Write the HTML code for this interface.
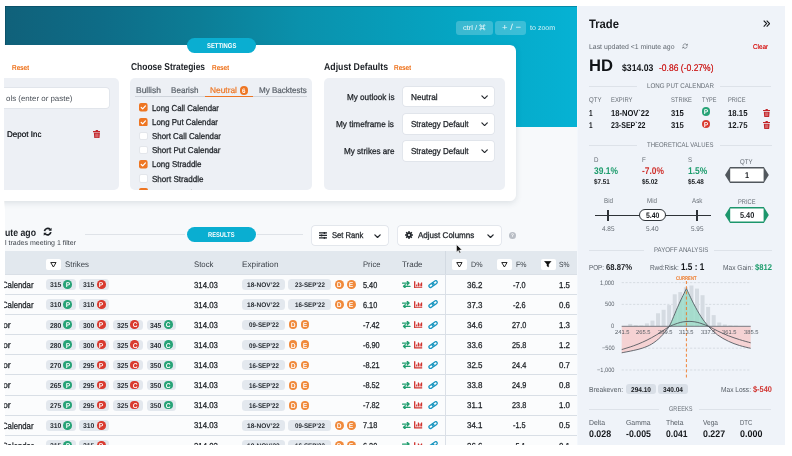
<!DOCTYPE html>
<html><head><meta charset="utf-8"><title>Trade</title>
<style>
html,body{margin:0;padding:0;background:#fff;}
body{width:792px;height:456px;overflow:hidden;position:relative;font-family:"Liberation Sans",sans-serif;}
#app{position:absolute;left:0;top:0;width:792px;height:456px;overflow:hidden;will-change:transform;clip-path:polygon(4.9px 5.85px,784.6px 5.85px,784.6px 444.7px,4.9px 444.7px);}
.r{position:absolute;display:block;}
.t{position:absolute;display:block;white-space:nowrap;line-height:1;transform-origin:0 50%;text-rendering:geometricPrecision;}
</style></head><body><div id="app">
<div class="r" style="left:4.5px;top:5.5px;width:572.5px;height:440px;background:#f7f9fb;"></div>
<div class="r" style="left:4.5px;top:5.5px;width:572.1px;height:121.1px;background:linear-gradient(90deg,#10617a 0%,#0e6c87 16.6%,#0c7d96 34%,#0a91ac 51.6%,#05a6c4 79.6%,#06b2d4 100%);"></div>
<div class="r" style="left:5px;top:5.8px;width:571.6px;height:1.1px;background:rgba(0,40,60,.28);"></div>
<div class="r" style="left:4.9px;top:5.8px;width:1.1px;height:121px;background:rgba(0,40,60,.25);"></div>
<div class="r" style="left:456.3px;top:20.7px;width:36.4px;height:14.1px;background:rgba(255,255,255,.22);border-radius:3px"></div>
<div class="r" style="left:495.2px;top:20.7px;width:31.1px;height:14.1px;background:rgba(255,255,255,.22);border-radius:3px"></div>
<span class="t" style="left:463.00px;top:25px;font-size:7px;font-weight:400;color:rgba(255,255,255,.9);transform:scaleX(1.074);">ctrl /</span>
<svg class="r" style="left:479.4px;top:24.4px;width:6.6px;height:6.6px" viewBox="0 0 8 8"><path d="M2.6 2.6h2.8v2.8H2.6zM2.6 2.6H1.7a.9.9 0 1 1 .9-.9zM5.4 2.6V1.7a.9.9 0 1 1 .9.9zM5.4 5.4h.9a.9.9 0 1 1-.9.9zM2.6 5.4v.9a.9.9 0 1 1-.9-.9z" fill="none" stroke="rgba(255,255,255,.9)" stroke-width=".85"/></svg>
<span class="t" style="left:501.50px;top:23px;font-size:8.5px;font-weight:400;color:rgba(255,255,255,.9);transform:scaleX(1.117);">+ / −</span>
<span class="t" style="left:529.80px;top:25px;font-size:7px;font-weight:400;color:rgba(255,255,255,.85);transform:scaleX(1.012);">to zoom</span>
<div class="r" style="left:-10px;top:45px;width:526px;height:155.5px;background:#fff;border-radius:6px;box-shadow:0 1.5px 6px rgba(40,60,80,.13)"></div>
<div class="r" style="left:187px;top:38px;width:69px;height:15px;background:#0aaed1;border-radius:8px"></div>
<span class="t" style="left:206.85px;top:43px;font-size:7px;font-weight:700;color:#fff;transform:scaleX(0.837);">SETTINGS</span>
<span class="t" style="left:11.60px;top:65px;font-size:7px;font-weight:400;color:#ee7623;transform:scaleX(0.930);text-shadow:0 0 .3px #ee7623;">Reset</span>
<div class="r" style="left:-10px;top:77.5px;width:128.5px;height:112px;background:#edf0f5;border-radius:5px"></div>
<div class="r" style="left:-10px;top:88.3px;width:118.6px;height:19.9px;background:#fff;border-radius:3px;box-shadow:0 0 0 .7px #dde1e8"></div>
<span class="t" style="left:5.50px;top:95px;font-size:7.8px;font-weight:400;color:#4a5058;transform:scaleX(1.016);">ols (enter or paste)</span>
<span class="t" style="left:6.80px;top:130px;font-size:8.3px;font-weight:400;color:#23272c;transform:scaleX(0.971);text-shadow:0 0 .3px #23272c;">Depot Inc</span>
<svg class="r" style="left:92.61px;top:129.60px;width:7.77px;height:8.40px" viewBox="0 0 7.4 8"><path fill="#c2262b" d="M0 1h2.3L2.8 0.1h1.8L5.1 1h2.3v1.1H0zM0.8 2.7h5.8L6.2 7.4c0 .35-.25.6-.6.6H1.8c-.35 0-.6-.25-.6-.6z"/><path stroke="#fff" stroke-width=".55" opacity=".6" d="M2.7 3.5v3.6M3.7 3.5v3.6M4.7 3.5v3.6"/></svg>
<span class="t" style="left:130.50px;top:63px;font-size:10px;font-weight:700;color:#1d2126;transform:scaleX(0.843);">Choose Strategies</span>
<span class="t" style="left:211.50px;top:65px;font-size:7px;font-weight:400;color:#ee7623;transform:scaleX(0.930);text-shadow:0 0 .3px #ee7623;">Reset</span>
<div class="r" style="left:130px;top:77.5px;width:181.5px;height:112px;background:#edf0f5;border-radius:5px;overflow:hidden"></div>
<span class="t" style="left:135.50px;top:86px;font-size:8.4px;font-weight:400;color:#596068;transform:scaleX(1.010);-webkit-text-stroke:.2px #596068;">Bullish</span>
<span class="t" style="left:171.00px;top:86px;font-size:8.4px;font-weight:400;color:#596068;transform:scaleX(0.966);-webkit-text-stroke:.2px #596068;">Bearish</span>
<span class="t" style="left:209.50px;top:86px;font-size:8.4px;font-weight:400;color:#ee7623;transform:scaleX(0.997);-webkit-text-stroke:.2px #ee7623;">Neutral</span>
<span class="t" style="left:259.00px;top:86px;font-size:8.4px;font-weight:400;color:#596068;transform:scaleX(0.961);-webkit-text-stroke:.2px #596068;">My Backtests</span>
<div class="r" style="left:135px;top:96.2px;width:172px;height:0.8px;background:#cfd4db;"></div>
<div class="r" style="left:204.5px;top:95.6px;width:48.5px;height:1.4px;background:#ee7623;"></div>
<div class="r" style="left:239.8px;top:86.4px;width:8.2px;height:8.2px;background:#ee7623;border-radius:50%"></div>
<span class="t" style="left:242.16px;top:89px;font-size:6.6px;font-weight:700;color:#fff;transform:scaleX(0.950);">6</span>
<svg class="r" style="left:139px;top:103.39999999999999px;width:8.6px;height:8.6px" viewBox="0 0 10 10"><rect width="10" height="10" rx="2.3" fill="#ee7623"/><path d="M2.6 5.2l1.7 1.7 3.2-3.6" stroke="#fff" stroke-width="1.4" fill="none" stroke-linecap="round" stroke-linejoin="round"/></svg>
<span class="t" style="left:152.00px;top:104px;font-size:8.6px;font-weight:400;color:#1f2328;transform:scaleX(0.910);-webkit-text-stroke:.28px #1f2328;">Long Call Calendar</span>
<svg class="r" style="left:139px;top:117.55px;width:8.6px;height:8.6px" viewBox="0 0 10 10"><rect width="10" height="10" rx="2.3" fill="#ee7623"/><path d="M2.6 5.2l1.7 1.7 3.2-3.6" stroke="#fff" stroke-width="1.4" fill="none" stroke-linecap="round" stroke-linejoin="round"/></svg>
<span class="t" style="left:152.00px;top:118px;font-size:8.6px;font-weight:400;color:#1f2328;transform:scaleX(0.920);-webkit-text-stroke:.28px #1f2328;">Long Put Calendar</span>
<div class="r" style="left:139px;top:131.7px;width:8.6px;height:8.6px;background:#fff;border-radius:2px;border:0.6px solid #e3e6eb;box-sizing:border-box"></div>
<span class="t" style="left:152.00px;top:132px;font-size:8.5px;font-weight:400;color:#1f2328;transform:scaleX(0.930);-webkit-text-stroke:.28px #1f2328;">Short Call Calendar</span>
<div class="r" style="left:139px;top:145.85px;width:8.6px;height:8.6px;background:#fff;border-radius:2px;border:0.6px solid #e3e6eb;box-sizing:border-box"></div>
<span class="t" style="left:152.00px;top:146px;font-size:8.5px;font-weight:400;color:#1f2328;transform:scaleX(0.948);-webkit-text-stroke:.28px #1f2328;">Short Put Calendar</span>
<svg class="r" style="left:139px;top:160.0px;width:8.6px;height:8.6px" viewBox="0 0 10 10"><rect width="10" height="10" rx="2.3" fill="#ee7623"/><path d="M2.6 5.2l1.7 1.7 3.2-3.6" stroke="#fff" stroke-width="1.4" fill="none" stroke-linecap="round" stroke-linejoin="round"/></svg>
<span class="t" style="left:152.00px;top:160px;font-size:8.5px;font-weight:400;color:#1f2328;transform:scaleX(0.935);-webkit-text-stroke:.28px #1f2328;">Long Straddle</span>
<div class="r" style="left:139px;top:174.15px;width:8.6px;height:8.6px;background:#fff;border-radius:2px;border:0.6px solid #e3e6eb;box-sizing:border-box"></div>
<span class="t" style="left:152.00px;top:175px;font-size:8.6px;font-weight:400;color:#1f2328;transform:scaleX(0.937);-webkit-text-stroke:.28px #1f2328;">Short Straddle</span>
<div class="r" style="left:130px;top:77.5px;width:181.5px;height:112px;overflow:hidden;border-radius:5px"><div class="r" style="left:9px;top:110.6px;width:8.6px;height:8.6px;border-radius:2px;background:#ee7623"></div><span class="t" style="left:22px;top:111.3px;font-size:8.6px;color:#1f2328;transform:scaleX(.82)">Long Strangle</span></div>
<span class="t" style="left:323.50px;top:63px;font-size:10px;font-weight:700;color:#1d2126;transform:scaleX(0.873);">Adjust Defaults</span>
<span class="t" style="left:393.50px;top:65px;font-size:7px;font-weight:400;color:#ee7623;transform:scaleX(0.930);text-shadow:0 0 .3px #ee7623;">Reset</span>
<div class="r" style="left:323.5px;top:77.5px;width:181.5px;height:112px;background:#edf0f5;border-radius:5px"></div>
<div class="r" style="left:403.2px;top:86.6px;width:90.4px;height:19.9px;background:#fff;border-radius:3px;box-shadow:0 0 0 .7px #dde1e8"></div>
<span class="t" style="left:346.70px;top:93px;font-size:8.6px;font-weight:400;color:#1f2328;transform:scaleX(0.946);-webkit-text-stroke:.28px #1f2328;">My outlook is</span>
<span class="t" style="left:410.70px;top:93px;font-size:8.6px;font-weight:400;color:#1f2328;transform:scaleX(0.959);-webkit-text-stroke:.28px #1f2328;">Neutral</span>
<svg class="r" style="left:480.50px;top:94.55px;width:7.20px;height:4.50px" viewBox="0 0 8 5"><path d="M1 1l3 3 3-3" stroke="#23272c" stroke-width="1.3" fill="none" stroke-linecap="round" stroke-linejoin="round"/></svg>
<div class="r" style="left:403.2px;top:113.7px;width:90.4px;height:19.9px;background:#fff;border-radius:3px;box-shadow:0 0 0 .7px #dde1e8"></div>
<span class="t" style="left:336.20px;top:120px;font-size:8.6px;font-weight:400;color:#1f2328;transform:scaleX(0.956);-webkit-text-stroke:.28px #1f2328;">My timeframe is</span>
<span class="t" style="left:410.70px;top:120px;font-size:8.6px;font-weight:400;color:#1f2328;transform:scaleX(0.932);-webkit-text-stroke:.28px #1f2328;">Strategy Default</span>
<svg class="r" style="left:480.50px;top:121.65px;width:7.20px;height:4.50px" viewBox="0 0 8 5"><path d="M1 1l3 3 3-3" stroke="#23272c" stroke-width="1.3" fill="none" stroke-linecap="round" stroke-linejoin="round"/></svg>
<div class="r" style="left:403.2px;top:140.8px;width:90.4px;height:19.9px;background:#fff;border-radius:3px;box-shadow:0 0 0 .7px #dde1e8"></div>
<span class="t" style="left:343.70px;top:147px;font-size:8.6px;font-weight:400;color:#1f2328;transform:scaleX(0.944);-webkit-text-stroke:.28px #1f2328;">My strikes are</span>
<span class="t" style="left:410.70px;top:147px;font-size:8.6px;font-weight:400;color:#1f2328;transform:scaleX(0.932);-webkit-text-stroke:.28px #1f2328;">Strategy Default</span>
<svg class="r" style="left:480.50px;top:148.75px;width:7.20px;height:4.50px" viewBox="0 0 8 5"><path d="M1 1l3 3 3-3" stroke="#23272c" stroke-width="1.3" fill="none" stroke-linecap="round" stroke-linejoin="round"/></svg>
<span class="t" style="left:5.30px;top:229px;font-size:10.1px;font-weight:700;color:#1d2126;transform:scaleX(0.863);">ute ago</span>
<svg class="r" style="left:42.55px;top:226.85px;width:9.30px;height:9.30px" viewBox="0 0 10 10"><path d="M1.6 4.4A3.5 3.5 0 0 1 7.7 2.7M8.4 5.6A3.5 3.5 0 0 1 2.3 7.3" stroke="#1d2126" stroke-width="1.9" fill="none"/><path fill="#1d2126" d="M9.2 0.7v3.2H6zM0.8 9.3V6.1H4z"/></svg>
<span class="t" style="left:5.30px;top:240px;font-size:7px;font-weight:400;color:#3d434a;transform:scaleX(1.003);">l trades meeting 1 filter</span>
<div class="r" style="left:85px;top:234.3px;width:100px;height:0.7px;background:#dfe3e8;"></div>
<div class="r" style="left:187px;top:227px;width:69px;height:15px;background:#0aaed1;border-radius:8px"></div>
<span class="t" style="left:208.25px;top:232px;font-size:7px;font-weight:700;color:#fff;transform:scaleX(0.824);">RESULTS</span>
<div class="r" style="left:257px;top:234.3px;width:46px;height:0.7px;background:#dfe3e8;"></div>
<div class="r" style="left:311.8px;top:225.8px;width:76.6px;height:19.1px;background:#fff;border-radius:3px;box-shadow:0 0 0 .7px #dde1e8"></div>
<svg class="r" style="left:319px;top:232px;width:8.1px;height:6.8px" viewBox="0 0 8.1 6.8"><path d="M0 0.9h8.1M0 3.4h8.1M0 5.9h8.1" stroke="#23272c" stroke-width="1.3"/><rect x="4.7" y="0" width="1.5" height="1.9" fill="#23272c"/><rect x="1.8" y="2.5" width="1.5" height="1.9" fill="#23272c"/><rect x="4.7" y="4.9" width="1.5" height="1.9" fill="#23272c"/></svg>
<span class="t" style="left:331.80px;top:231px;font-size:8.4px;font-weight:400;color:#1f2328;transform:scaleX(0.912);-webkit-text-stroke:.28px #1f2328;">Set Rank</span>
<svg class="r" style="left:374.38px;top:233.50px;width:7.04px;height:4.40px" viewBox="0 0 8 5"><path d="M1 1l3 3 3-3" stroke="#23272c" stroke-width="1.45" fill="none" stroke-linecap="round" stroke-linejoin="round"/></svg>
<div class="r" style="left:398.4px;top:225.8px;width:102.8px;height:19.1px;background:#fff;border-radius:3px;box-shadow:0 0 0 .7px #dde1e8"></div>
<svg class="r" style="left:404.6px;top:231.4px;width:8px;height:8px" viewBox="0 0 10 10"><g fill="#23272c"><circle cx="5" cy="5" r="3.3"/><g id="tt"><rect x="4" y="0" width="2" height="10" rx=".5"/></g><rect x="4" y="0" width="2" height="10" rx=".5" transform="rotate(45 5 5)"/><rect x="4" y="0" width="2" height="10" rx=".5" transform="rotate(90 5 5)"/><rect x="4" y="0" width="2" height="10" rx=".5" transform="rotate(135 5 5)"/></g><circle cx="5" cy="5" r="1.4" fill="#fff"/></svg>
<span class="t" style="left:417.80px;top:231px;font-size:8.4px;font-weight:400;color:#1f2328;transform:scaleX(0.960);-webkit-text-stroke:.28px #1f2328;">Adjust Columns</span>
<svg class="r" style="left:486.78px;top:233.50px;width:7.04px;height:4.40px" viewBox="0 0 8 5"><path d="M1 1l3 3 3-3" stroke="#23272c" stroke-width="1.45" fill="none" stroke-linecap="round" stroke-linejoin="round"/></svg>
<div class="r" style="left:508.9px;top:231.9px;width:7px;height:7px;background:#b9bec5;border-radius:50%"></div>
<span class="t" style="left:510.97px;top:234px;font-size:5.2px;font-weight:700;color:#fff;transform:scaleX(0.900);">?</span>
<div class="r" style="left:5px;top:250.8px;width:572px;height:23.4px;background:#e2e8ee;"></div>
<div class="r" style="left:5px;top:274.2px;width:572px;height:171px;background:#fbfcfd;"></div>
<div class="r" style="left:46px;top:259.2px;width:15.2px;height:10.4px;background:#fff;border-radius:2px"></div>
<svg class="r" style="left:50.0px;top:261.5px;width:6.8px;height:5.7px" viewBox="0 0 7 6.2"><path d="M0.6 0.6h5.8L3.5 5.5z" fill="none" stroke="#111" stroke-width="1.0" stroke-linejoin="round"/></svg>
<span class="t" style="left:65.30px;top:261px;font-size:8.1px;font-weight:400;color:#3b4148;transform:scaleX(0.970);">Strikes</span>
<span class="t" style="left:193.80px;top:261px;font-size:8.1px;font-weight:400;color:#3b4148;transform:scaleX(0.963);">Stock</span>
<span class="t" style="left:241.80px;top:261px;font-size:8.1px;font-weight:400;color:#3b4148;transform:scaleX(1.013);">Expiration</span>
<span class="t" style="left:363.30px;top:261px;font-size:8.1px;font-weight:400;color:#3b4148;transform:scaleX(0.948);">Price</span>
<span class="t" style="left:402.00px;top:261px;font-size:8.1px;font-weight:400;color:#3b4148;transform:scaleX(0.983);">Trade</span>
<div class="r" style="left:444.9px;top:250.8px;width:0.9px;height:23.5px;background:#d3dae2;"></div>
<div class="r" style="left:444.9px;top:274.3px;width:0.9px;height:172px;background:#dbe0e7;"></div>
<div class="r" style="left:452px;top:259.2px;width:15.2px;height:10.4px;background:#fff;border-radius:2px"></div>
<svg class="r" style="left:456.0px;top:261.5px;width:6.8px;height:5.7px" viewBox="0 0 7 6.2"><path d="M0.6 0.6h5.8L3.5 5.5z" fill="none" stroke="#111" stroke-width="1.0" stroke-linejoin="round"/></svg>
<span class="t" style="left:471.00px;top:261px;font-size:7.6px;font-weight:400;color:#3b4148;transform:scaleX(0.939);">D%</span>
<div class="r" style="left:497.3px;top:259.2px;width:15.2px;height:10.4px;background:#fff;border-radius:2px"></div>
<svg class="r" style="left:501.3px;top:261.5px;width:6.8px;height:5.7px" viewBox="0 0 7 6.2"><path d="M0.6 0.6h5.8L3.5 5.5z" fill="none" stroke="#111" stroke-width="1.0" stroke-linejoin="round"/></svg>
<span class="t" style="left:516.00px;top:261px;font-size:7.6px;font-weight:400;color:#3b4148;transform:scaleX(0.921);">F%</span>
<div class="r" style="left:540.6px;top:259.2px;width:15.2px;height:10.4px;background:#fff;border-radius:2px"></div>
<svg class="r" style="left:544.4px;top:261.4px;width:7.6px;height:6.2px" viewBox="0 0 7 6.2"><path d="M0.2 0.3h6.6L4.3 3.2v2.7L2.7 5V3.2z" fill="#111" stroke="#111" stroke-width=".5" stroke-linejoin="round"/></svg>
<span class="t" style="left:559.00px;top:261px;font-size:7.6px;font-weight:400;color:#3b4148;transform:scaleX(0.888);">S%</span>
<div class="r" style="left:5px;top:273.8px;width:572px;height:0.8px;background:#d9dfe6;"></div>
<span class="t" style="left:2.40px;top:281px;font-size:9.1px;font-weight:400;color:#1f2328;transform:scaleX(0.853);-webkit-text-stroke:.28px #1f2328;">Calendar</span>
<div class="r" style="left:45.9px;top:279.3px;width:29.9px;height:10.6px;background:#e3e8ee;border-radius:3.5px"></div>
<span class="t" style="left:49.70px;top:282px;font-size:7.1px;font-weight:700;color:#2a2f35;transform:scaleX(0.962);">315</span>
<div class="r" style="left:63.35px;top:280.05px;width:8.7px;height:8.7px;background:#27a377;border-radius:50%"></div>
<span class="t" style="left:65.74px;top:283px;font-size:6.7px;font-weight:400;color:#fff;transform:scaleX(0.920);text-shadow:0 0 .35px #fff;">P</span>
<div class="r" style="left:79.45px;top:279.3px;width:29.9px;height:10.6px;background:#e3e8ee;border-radius:3.5px"></div>
<span class="t" style="left:83.25px;top:282px;font-size:7.1px;font-weight:700;color:#2a2f35;transform:scaleX(0.962);">315</span>
<div class="r" style="left:96.9px;top:280.05px;width:8.7px;height:8.7px;background:#d93a2f;border-radius:50%"></div>
<span class="t" style="left:99.29px;top:283px;font-size:6.7px;font-weight:400;color:#fff;transform:scaleX(0.920);text-shadow:0 0 .35px #fff;">P</span>
<span class="t" style="left:193.80px;top:281px;font-size:8.6px;font-weight:400;color:#1f2328;transform:scaleX(0.905);-webkit-text-stroke:.28px #1f2328;">314.03</span>
<div class="r" style="left:242px;top:279.3px;width:43.1px;height:10.6px;background:#e3e8ee;border-radius:3.5px"></div>
<span class="t" style="left:247.10px;top:283px;font-size:6.7px;font-weight:700;color:#2a2f35;transform:scaleX(0.979);">18-NOV’22</span>
<div class="r" style="left:288.3px;top:279.3px;width:43.1px;height:10.6px;background:#e3e8ee;border-radius:3.5px"></div>
<span class="t" style="left:294.85px;top:283px;font-size:6.7px;font-weight:700;color:#2a2f35;transform:scaleX(0.923);">23-SEP’22</span>
<div class="r" style="left:334.75px;top:280.05px;width:8.9px;height:8.9px;background:#f08a3c;border-radius:50%"></div>
<span class="t" style="left:337.07px;top:283px;font-size:6.7px;font-weight:400;color:#fff;transform:scaleX(0.920);text-shadow:0 0 .35px #fff;">D</span>
<div class="r" style="left:346.75px;top:280.05px;width:8.9px;height:8.9px;background:#f08a3c;border-radius:50%"></div>
<span class="t" style="left:349.24px;top:283px;font-size:6.7px;font-weight:400;color:#fff;transform:scaleX(0.920);text-shadow:0 0 .35px #fff;">E</span>
<span class="t" style="left:363.30px;top:281px;font-size:8.6px;font-weight:400;color:#1f2328;transform:scaleX(0.850);-webkit-text-stroke:.28px #1f2328;">5.40</span>
<svg class="r" style="left:402px;top:280.90px;width:8.6px;height:7.4px" viewBox="0 0 8.6 7.4"><path d="M0.5 2.1h6M5.3 0.5l1.8 1.6-1.8 1.6M8.1 5.3H2.1M3.3 3.7L1.5 5.3l1.8 1.6" stroke="#1f9d6e" stroke-width="1.3" fill="none" stroke-linecap="round" stroke-linejoin="round"/></svg>
<svg class="r" style="left:414.3px;top:280.60px;width:8.4px;height:7.6px" viewBox="0 0 8.4 7.6"><path d="M0.7 0.2v6.7h7.5" stroke="#d0312d" stroke-width="1.3" fill="none"/><path d="M2.7 3.4v2.2M4.4 1.4v4.2M6.1 2.6v3M7.6 1.6v4" stroke="#d0312d" stroke-width="1.15"/></svg>
<svg class="r" style="left:427.8px;top:280.30px;width:10.2px;height:8.4px" viewBox="0 0 10.2 8.4"><g fill="none" stroke="#1a96c0" stroke-width="1.3"><rect x="0.7" y="3.7" width="5.6" height="3" rx="1.5" transform="rotate(-36 3.5 5.2)"/><rect x="3.9" y="1.5" width="5.6" height="3" rx="1.5" transform="rotate(-36 6.7 3)"/></g></svg>
<span class="t" style="left:467.00px;top:281px;font-size:8.6px;font-weight:400;color:#1f2328;transform:scaleX(0.926);-webkit-text-stroke:.28px #1f2328;">36.2</span>
<span class="t" style="left:513.40px;top:281px;font-size:8.6px;font-weight:400;color:#1f2328;transform:scaleX(0.850);-webkit-text-stroke:.28px #1f2328;">-7.0</span>
<span class="t" style="left:558.50px;top:281px;font-size:8.6px;font-weight:400;color:#1f2328;transform:scaleX(0.920);-webkit-text-stroke:.28px #1f2328;">1.5</span>
<div class="r" style="left:5px;top:293.92px;width:572px;height:0.8px;background:#d9dfe6;"></div>
<span class="t" style="left:2.40px;top:301px;font-size:9.1px;font-weight:400;color:#1f2328;transform:scaleX(0.853);-webkit-text-stroke:.28px #1f2328;">Calendar</span>
<div class="r" style="left:45.9px;top:299.42px;width:29.9px;height:10.6px;background:#e3e8ee;border-radius:3.5px"></div>
<span class="t" style="left:49.70px;top:302px;font-size:7.1px;font-weight:700;color:#2a2f35;transform:scaleX(0.962);">310</span>
<div class="r" style="left:63.35px;top:300.17px;width:8.7px;height:8.7px;background:#27a377;border-radius:50%"></div>
<span class="t" style="left:65.74px;top:303px;font-size:6.7px;font-weight:400;color:#fff;transform:scaleX(0.920);text-shadow:0 0 .35px #fff;">P</span>
<div class="r" style="left:79.45px;top:299.42px;width:29.9px;height:10.6px;background:#e3e8ee;border-radius:3.5px"></div>
<span class="t" style="left:83.25px;top:302px;font-size:7.1px;font-weight:700;color:#2a2f35;transform:scaleX(0.962);">310</span>
<div class="r" style="left:96.9px;top:300.17px;width:8.7px;height:8.7px;background:#d93a2f;border-radius:50%"></div>
<span class="t" style="left:99.29px;top:303px;font-size:6.7px;font-weight:400;color:#fff;transform:scaleX(0.920);text-shadow:0 0 .35px #fff;">P</span>
<span class="t" style="left:193.80px;top:301px;font-size:8.6px;font-weight:400;color:#1f2328;transform:scaleX(0.905);-webkit-text-stroke:.28px #1f2328;">314.03</span>
<div class="r" style="left:242px;top:299.42px;width:43.1px;height:10.6px;background:#e3e8ee;border-radius:3.5px"></div>
<span class="t" style="left:247.10px;top:303px;font-size:6.7px;font-weight:700;color:#2a2f35;transform:scaleX(0.979);">18-NOV’22</span>
<div class="r" style="left:288.3px;top:299.42px;width:43.1px;height:10.6px;background:#e3e8ee;border-radius:3.5px"></div>
<span class="t" style="left:294.85px;top:303px;font-size:6.7px;font-weight:700;color:#2a2f35;transform:scaleX(0.923);">16-SEP’22</span>
<div class="r" style="left:334.75px;top:300.17px;width:8.9px;height:8.9px;background:#f08a3c;border-radius:50%"></div>
<span class="t" style="left:337.07px;top:303px;font-size:6.7px;font-weight:400;color:#fff;transform:scaleX(0.920);text-shadow:0 0 .35px #fff;">D</span>
<div class="r" style="left:346.75px;top:300.17px;width:8.9px;height:8.9px;background:#f08a3c;border-radius:50%"></div>
<span class="t" style="left:349.24px;top:303px;font-size:6.7px;font-weight:400;color:#fff;transform:scaleX(0.920);text-shadow:0 0 .35px #fff;">E</span>
<span class="t" style="left:363.30px;top:301px;font-size:8.6px;font-weight:400;color:#1f2328;transform:scaleX(0.850);-webkit-text-stroke:.28px #1f2328;">6.10</span>
<svg class="r" style="left:402px;top:301.02px;width:8.6px;height:7.4px" viewBox="0 0 8.6 7.4"><path d="M0.5 2.1h6M5.3 0.5l1.8 1.6-1.8 1.6M8.1 5.3H2.1M3.3 3.7L1.5 5.3l1.8 1.6" stroke="#1f9d6e" stroke-width="1.3" fill="none" stroke-linecap="round" stroke-linejoin="round"/></svg>
<svg class="r" style="left:414.3px;top:300.72px;width:8.4px;height:7.6px" viewBox="0 0 8.4 7.6"><path d="M0.7 0.2v6.7h7.5" stroke="#d0312d" stroke-width="1.3" fill="none"/><path d="M2.7 3.4v2.2M4.4 1.4v4.2M6.1 2.6v3M7.6 1.6v4" stroke="#d0312d" stroke-width="1.15"/></svg>
<svg class="r" style="left:427.8px;top:300.42px;width:10.2px;height:8.4px" viewBox="0 0 10.2 8.4"><g fill="none" stroke="#1a96c0" stroke-width="1.3"><rect x="0.7" y="3.7" width="5.6" height="3" rx="1.5" transform="rotate(-36 3.5 5.2)"/><rect x="3.9" y="1.5" width="5.6" height="3" rx="1.5" transform="rotate(-36 6.7 3)"/></g></svg>
<span class="t" style="left:467.00px;top:301px;font-size:8.6px;font-weight:400;color:#1f2328;transform:scaleX(0.926);-webkit-text-stroke:.28px #1f2328;">37.3</span>
<span class="t" style="left:513.40px;top:301px;font-size:8.6px;font-weight:400;color:#1f2328;transform:scaleX(0.850);-webkit-text-stroke:.28px #1f2328;">-2.6</span>
<span class="t" style="left:558.50px;top:301px;font-size:8.6px;font-weight:400;color:#1f2328;transform:scaleX(0.920);-webkit-text-stroke:.28px #1f2328;">0.6</span>
<div class="r" style="left:5px;top:314.04px;width:572px;height:0.8px;background:#d9dfe6;"></div>
<span class="t" style="left:3.30px;top:321px;font-size:8.9px;font-weight:400;color:#1f2328;transform:scaleX(0.986);-webkit-text-stroke:.28px #1f2328;">or</span>
<div class="r" style="left:45.9px;top:319.54px;width:29.9px;height:10.6px;background:#e3e8ee;border-radius:3.5px"></div>
<span class="t" style="left:49.70px;top:322px;font-size:7.2px;font-weight:700;color:#2a2f35;transform:scaleX(0.949);">280</span>
<div class="r" style="left:63.35px;top:320.29px;width:8.7px;height:8.7px;background:#27a377;border-radius:50%"></div>
<span class="t" style="left:65.74px;top:323px;font-size:6.7px;font-weight:400;color:#fff;transform:scaleX(0.920);text-shadow:0 0 .35px #fff;">P</span>
<div class="r" style="left:79.45px;top:319.54px;width:29.9px;height:10.6px;background:#e3e8ee;border-radius:3.5px"></div>
<span class="t" style="left:83.25px;top:322px;font-size:7.2px;font-weight:700;color:#2a2f35;transform:scaleX(0.949);">300</span>
<div class="r" style="left:96.9px;top:320.29px;width:8.7px;height:8.7px;background:#d93a2f;border-radius:50%"></div>
<span class="t" style="left:99.29px;top:323px;font-size:6.7px;font-weight:400;color:#fff;transform:scaleX(0.920);text-shadow:0 0 .35px #fff;">P</span>
<div class="r" style="left:113px;top:319.54px;width:29.9px;height:10.6px;background:#e3e8ee;border-radius:3.5px"></div>
<span class="t" style="left:116.80px;top:322px;font-size:7.2px;font-weight:700;color:#2a2f35;transform:scaleX(0.949);">325</span>
<div class="r" style="left:130.45px;top:320.29px;width:8.7px;height:8.7px;background:#d93a2f;border-radius:50%"></div>
<span class="t" style="left:132.67px;top:323px;font-size:6.7px;font-weight:400;color:#fff;transform:scaleX(0.920);text-shadow:0 0 .35px #fff;">C</span>
<div class="r" style="left:146.55px;top:319.54px;width:29.9px;height:10.6px;background:#e3e8ee;border-radius:3.5px"></div>
<span class="t" style="left:150.35px;top:322px;font-size:7.2px;font-weight:700;color:#2a2f35;transform:scaleX(0.949);">345</span>
<div class="r" style="left:164px;top:320.29px;width:8.7px;height:8.7px;background:#27a377;border-radius:50%"></div>
<span class="t" style="left:166.22px;top:323px;font-size:6.7px;font-weight:400;color:#fff;transform:scaleX(0.920);text-shadow:0 0 .35px #fff;">C</span>
<span class="t" style="left:193.80px;top:321px;font-size:8.6px;font-weight:400;color:#1f2328;transform:scaleX(0.905);-webkit-text-stroke:.28px #1f2328;">314.03</span>
<div class="r" style="left:242px;top:319.54px;width:43.1px;height:10.6px;background:#e3e8ee;border-radius:3.5px"></div>
<span class="t" style="left:248.55px;top:323px;font-size:6.7px;font-weight:700;color:#2a2f35;transform:scaleX(0.923);">09-SEP’22</span>
<div class="r" style="left:288.55px;top:320.29px;width:8.9px;height:8.9px;background:#f08a3c;border-radius:50%"></div>
<span class="t" style="left:290.87px;top:323px;font-size:6.7px;font-weight:400;color:#fff;transform:scaleX(0.920);text-shadow:0 0 .35px #fff;">D</span>
<div class="r" style="left:300.55px;top:320.29px;width:8.9px;height:8.9px;background:#f08a3c;border-radius:50%"></div>
<span class="t" style="left:303.04px;top:323px;font-size:6.7px;font-weight:400;color:#fff;transform:scaleX(0.920);text-shadow:0 0 .35px #fff;">E</span>
<span class="t" style="left:363.30px;top:321px;font-size:8.6px;font-weight:400;color:#1f2328;transform:scaleX(0.850);-webkit-text-stroke:.28px #1f2328;">-7.42</span>
<svg class="r" style="left:402px;top:321.14px;width:8.6px;height:7.4px" viewBox="0 0 8.6 7.4"><path d="M0.5 2.1h6M5.3 0.5l1.8 1.6-1.8 1.6M8.1 5.3H2.1M3.3 3.7L1.5 5.3l1.8 1.6" stroke="#1f9d6e" stroke-width="1.3" fill="none" stroke-linecap="round" stroke-linejoin="round"/></svg>
<svg class="r" style="left:414.3px;top:320.84px;width:8.4px;height:7.6px" viewBox="0 0 8.4 7.6"><path d="M0.7 0.2v6.7h7.5" stroke="#d0312d" stroke-width="1.3" fill="none"/><path d="M2.7 3.4v2.2M4.4 1.4v4.2M6.1 2.6v3M7.6 1.6v4" stroke="#d0312d" stroke-width="1.15"/></svg>
<svg class="r" style="left:427.8px;top:320.54px;width:10.2px;height:8.4px" viewBox="0 0 10.2 8.4"><g fill="none" stroke="#1a96c0" stroke-width="1.3"><rect x="0.7" y="3.7" width="5.6" height="3" rx="1.5" transform="rotate(-36 3.5 5.2)"/><rect x="3.9" y="1.5" width="5.6" height="3" rx="1.5" transform="rotate(-36 6.7 3)"/></g></svg>
<span class="t" style="left:467.00px;top:321px;font-size:8.6px;font-weight:400;color:#1f2328;transform:scaleX(0.926);-webkit-text-stroke:.28px #1f2328;">34.6</span>
<span class="t" style="left:511.77px;top:321px;font-size:8.6px;font-weight:400;color:#1f2328;transform:scaleX(0.850);-webkit-text-stroke:.28px #1f2328;">27.0</span>
<span class="t" style="left:558.50px;top:321px;font-size:8.6px;font-weight:400;color:#1f2328;transform:scaleX(0.920);-webkit-text-stroke:.28px #1f2328;">1.3</span>
<div class="r" style="left:5px;top:334.16px;width:572px;height:0.8px;background:#d9dfe6;"></div>
<span class="t" style="left:3.30px;top:341px;font-size:8.9px;font-weight:400;color:#1f2328;transform:scaleX(0.986);-webkit-text-stroke:.28px #1f2328;">or</span>
<div class="r" style="left:45.9px;top:339.66px;width:29.9px;height:10.6px;background:#e3e8ee;border-radius:3.5px"></div>
<span class="t" style="left:49.70px;top:342px;font-size:7.2px;font-weight:700;color:#2a2f35;transform:scaleX(0.949);">280</span>
<div class="r" style="left:63.35px;top:340.41px;width:8.7px;height:8.7px;background:#27a377;border-radius:50%"></div>
<span class="t" style="left:65.71px;top:344px;font-size:6.8px;font-weight:400;color:#fff;transform:scaleX(0.920);text-shadow:0 0 .35px #fff;">P</span>
<div class="r" style="left:79.45px;top:339.66px;width:29.9px;height:10.6px;background:#e3e8ee;border-radius:3.5px"></div>
<span class="t" style="left:83.25px;top:342px;font-size:7.2px;font-weight:700;color:#2a2f35;transform:scaleX(0.949);">300</span>
<div class="r" style="left:96.9px;top:340.41px;width:8.7px;height:8.7px;background:#d93a2f;border-radius:50%"></div>
<span class="t" style="left:99.26px;top:344px;font-size:6.8px;font-weight:400;color:#fff;transform:scaleX(0.920);text-shadow:0 0 .35px #fff;">P</span>
<div class="r" style="left:113px;top:339.66px;width:29.9px;height:10.6px;background:#e3e8ee;border-radius:3.5px"></div>
<span class="t" style="left:116.80px;top:342px;font-size:7.2px;font-weight:700;color:#2a2f35;transform:scaleX(0.949);">325</span>
<div class="r" style="left:130.45px;top:340.41px;width:8.7px;height:8.7px;background:#d93a2f;border-radius:50%"></div>
<span class="t" style="left:132.64px;top:344px;font-size:6.8px;font-weight:400;color:#fff;transform:scaleX(0.920);text-shadow:0 0 .35px #fff;">C</span>
<div class="r" style="left:146.55px;top:339.66px;width:29.9px;height:10.6px;background:#e3e8ee;border-radius:3.5px"></div>
<span class="t" style="left:150.35px;top:342px;font-size:7.2px;font-weight:700;color:#2a2f35;transform:scaleX(0.949);">340</span>
<div class="r" style="left:164px;top:340.41px;width:8.7px;height:8.7px;background:#27a377;border-radius:50%"></div>
<span class="t" style="left:166.19px;top:344px;font-size:6.8px;font-weight:400;color:#fff;transform:scaleX(0.920);text-shadow:0 0 .35px #fff;">C</span>
<span class="t" style="left:193.80px;top:341px;font-size:8.5px;font-weight:400;color:#1f2328;transform:scaleX(0.915);-webkit-text-stroke:.28px #1f2328;">314.03</span>
<div class="r" style="left:242px;top:339.66px;width:43.1px;height:10.6px;background:#e3e8ee;border-radius:3.5px"></div>
<span class="t" style="left:248.55px;top:344px;font-size:6.8px;font-weight:700;color:#2a2f35;transform:scaleX(0.909);">09-SEP’22</span>
<div class="r" style="left:288.55px;top:340.41px;width:8.9px;height:8.9px;background:#f08a3c;border-radius:50%"></div>
<span class="t" style="left:290.84px;top:344px;font-size:6.8px;font-weight:400;color:#fff;transform:scaleX(0.920);text-shadow:0 0 .35px #fff;">D</span>
<div class="r" style="left:300.55px;top:340.41px;width:8.9px;height:8.9px;background:#f08a3c;border-radius:50%"></div>
<span class="t" style="left:303.01px;top:344px;font-size:6.8px;font-weight:400;color:#fff;transform:scaleX(0.920);text-shadow:0 0 .35px #fff;">E</span>
<span class="t" style="left:363.30px;top:341px;font-size:8.5px;font-weight:400;color:#1f2328;transform:scaleX(0.860);-webkit-text-stroke:.28px #1f2328;">-6.90</span>
<svg class="r" style="left:402px;top:341.26px;width:8.6px;height:7.4px" viewBox="0 0 8.6 7.4"><path d="M0.5 2.1h6M5.3 0.5l1.8 1.6-1.8 1.6M8.1 5.3H2.1M3.3 3.7L1.5 5.3l1.8 1.6" stroke="#1f9d6e" stroke-width="1.3" fill="none" stroke-linecap="round" stroke-linejoin="round"/></svg>
<svg class="r" style="left:414.3px;top:340.96px;width:8.4px;height:7.6px" viewBox="0 0 8.4 7.6"><path d="M0.7 0.2v6.7h7.5" stroke="#d0312d" stroke-width="1.3" fill="none"/><path d="M2.7 3.4v2.2M4.4 1.4v4.2M6.1 2.6v3M7.6 1.6v4" stroke="#d0312d" stroke-width="1.15"/></svg>
<svg class="r" style="left:427.8px;top:340.66px;width:10.2px;height:8.4px" viewBox="0 0 10.2 8.4"><g fill="none" stroke="#1a96c0" stroke-width="1.3"><rect x="0.7" y="3.7" width="5.6" height="3" rx="1.5" transform="rotate(-36 3.5 5.2)"/><rect x="3.9" y="1.5" width="5.6" height="3" rx="1.5" transform="rotate(-36 6.7 3)"/></g></svg>
<span class="t" style="left:467.00px;top:341px;font-size:8.5px;font-weight:400;color:#1f2328;transform:scaleX(0.937);-webkit-text-stroke:.28px #1f2328;">33.6</span>
<span class="t" style="left:511.77px;top:341px;font-size:8.5px;font-weight:400;color:#1f2328;transform:scaleX(0.860);-webkit-text-stroke:.28px #1f2328;">25.8</span>
<span class="t" style="left:558.50px;top:341px;font-size:8.5px;font-weight:400;color:#1f2328;transform:scaleX(0.931);-webkit-text-stroke:.28px #1f2328;">1.2</span>
<div class="r" style="left:5px;top:354.28px;width:572px;height:0.8px;background:#d9dfe6;"></div>
<span class="t" style="left:3.30px;top:361px;font-size:8.9px;font-weight:400;color:#1f2328;transform:scaleX(0.986);-webkit-text-stroke:.28px #1f2328;">or</span>
<div class="r" style="left:45.9px;top:359.78px;width:29.9px;height:10.6px;background:#e3e8ee;border-radius:3.5px"></div>
<span class="t" style="left:49.70px;top:362px;font-size:7.2px;font-weight:700;color:#2a2f35;transform:scaleX(0.949);">270</span>
<div class="r" style="left:63.35px;top:360.53px;width:8.7px;height:8.7px;background:#27a377;border-radius:50%"></div>
<span class="t" style="left:65.71px;top:364px;font-size:6.8px;font-weight:400;color:#fff;transform:scaleX(0.920);text-shadow:0 0 .35px #fff;">P</span>
<div class="r" style="left:79.45px;top:359.78px;width:29.9px;height:10.6px;background:#e3e8ee;border-radius:3.5px"></div>
<span class="t" style="left:83.25px;top:362px;font-size:7.2px;font-weight:700;color:#2a2f35;transform:scaleX(0.949);">295</span>
<div class="r" style="left:96.9px;top:360.53px;width:8.7px;height:8.7px;background:#d93a2f;border-radius:50%"></div>
<span class="t" style="left:99.26px;top:364px;font-size:6.8px;font-weight:400;color:#fff;transform:scaleX(0.920);text-shadow:0 0 .35px #fff;">P</span>
<div class="r" style="left:113px;top:359.78px;width:29.9px;height:10.6px;background:#e3e8ee;border-radius:3.5px"></div>
<span class="t" style="left:116.80px;top:362px;font-size:7.2px;font-weight:700;color:#2a2f35;transform:scaleX(0.949);">325</span>
<div class="r" style="left:130.45px;top:360.53px;width:8.7px;height:8.7px;background:#d93a2f;border-radius:50%"></div>
<span class="t" style="left:132.64px;top:364px;font-size:6.8px;font-weight:400;color:#fff;transform:scaleX(0.920);text-shadow:0 0 .35px #fff;">C</span>
<div class="r" style="left:146.55px;top:359.78px;width:29.9px;height:10.6px;background:#e3e8ee;border-radius:3.5px"></div>
<span class="t" style="left:150.35px;top:362px;font-size:7.2px;font-weight:700;color:#2a2f35;transform:scaleX(0.949);">350</span>
<div class="r" style="left:164px;top:360.53px;width:8.7px;height:8.7px;background:#27a377;border-radius:50%"></div>
<span class="t" style="left:166.19px;top:364px;font-size:6.8px;font-weight:400;color:#fff;transform:scaleX(0.920);text-shadow:0 0 .35px #fff;">C</span>
<span class="t" style="left:193.80px;top:361px;font-size:8.5px;font-weight:400;color:#1f2328;transform:scaleX(0.915);-webkit-text-stroke:.28px #1f2328;">314.03</span>
<div class="r" style="left:242px;top:359.78px;width:43.1px;height:10.6px;background:#e3e8ee;border-radius:3.5px"></div>
<span class="t" style="left:248.55px;top:364px;font-size:6.8px;font-weight:700;color:#2a2f35;transform:scaleX(0.909);">16-SEP’22</span>
<div class="r" style="left:288.55px;top:360.53px;width:8.9px;height:8.9px;background:#f08a3c;border-radius:50%"></div>
<span class="t" style="left:290.84px;top:364px;font-size:6.8px;font-weight:400;color:#fff;transform:scaleX(0.920);text-shadow:0 0 .35px #fff;">D</span>
<div class="r" style="left:300.55px;top:360.53px;width:8.9px;height:8.9px;background:#f08a3c;border-radius:50%"></div>
<span class="t" style="left:303.01px;top:364px;font-size:6.8px;font-weight:400;color:#fff;transform:scaleX(0.920);text-shadow:0 0 .35px #fff;">E</span>
<span class="t" style="left:363.30px;top:361px;font-size:8.5px;font-weight:400;color:#1f2328;transform:scaleX(0.860);-webkit-text-stroke:.28px #1f2328;">-8.21</span>
<svg class="r" style="left:402px;top:361.38px;width:8.6px;height:7.4px" viewBox="0 0 8.6 7.4"><path d="M0.5 2.1h6M5.3 0.5l1.8 1.6-1.8 1.6M8.1 5.3H2.1M3.3 3.7L1.5 5.3l1.8 1.6" stroke="#1f9d6e" stroke-width="1.3" fill="none" stroke-linecap="round" stroke-linejoin="round"/></svg>
<svg class="r" style="left:414.3px;top:361.08px;width:8.4px;height:7.6px" viewBox="0 0 8.4 7.6"><path d="M0.7 0.2v6.7h7.5" stroke="#d0312d" stroke-width="1.3" fill="none"/><path d="M2.7 3.4v2.2M4.4 1.4v4.2M6.1 2.6v3M7.6 1.6v4" stroke="#d0312d" stroke-width="1.15"/></svg>
<svg class="r" style="left:427.8px;top:360.78px;width:10.2px;height:8.4px" viewBox="0 0 10.2 8.4"><g fill="none" stroke="#1a96c0" stroke-width="1.3"><rect x="0.7" y="3.7" width="5.6" height="3" rx="1.5" transform="rotate(-36 3.5 5.2)"/><rect x="3.9" y="1.5" width="5.6" height="3" rx="1.5" transform="rotate(-36 6.7 3)"/></g></svg>
<span class="t" style="left:467.00px;top:361px;font-size:8.5px;font-weight:400;color:#1f2328;transform:scaleX(0.937);-webkit-text-stroke:.28px #1f2328;">32.5</span>
<span class="t" style="left:511.77px;top:361px;font-size:8.5px;font-weight:400;color:#1f2328;transform:scaleX(0.860);-webkit-text-stroke:.28px #1f2328;">24.4</span>
<span class="t" style="left:558.50px;top:361px;font-size:8.5px;font-weight:400;color:#1f2328;transform:scaleX(0.931);-webkit-text-stroke:.28px #1f2328;">0.7</span>
<div class="r" style="left:5px;top:374.4px;width:572px;height:0.8px;background:#d9dfe6;"></div>
<span class="t" style="left:3.30px;top:381px;font-size:8.9px;font-weight:400;color:#1f2328;transform:scaleX(0.986);-webkit-text-stroke:.28px #1f2328;">or</span>
<div class="r" style="left:45.9px;top:379.9px;width:29.9px;height:10.6px;background:#e3e8ee;border-radius:3.5px"></div>
<span class="t" style="left:49.70px;top:382px;font-size:7.2px;font-weight:700;color:#2a2f35;transform:scaleX(0.949);">265</span>
<div class="r" style="left:63.35px;top:380.65px;width:8.7px;height:8.7px;background:#27a377;border-radius:50%"></div>
<span class="t" style="left:65.71px;top:384px;font-size:6.8px;font-weight:400;color:#fff;transform:scaleX(0.920);text-shadow:0 0 .35px #fff;">P</span>
<div class="r" style="left:79.45px;top:379.9px;width:29.9px;height:10.6px;background:#e3e8ee;border-radius:3.5px"></div>
<span class="t" style="left:83.25px;top:382px;font-size:7.2px;font-weight:700;color:#2a2f35;transform:scaleX(0.949);">295</span>
<div class="r" style="left:96.9px;top:380.65px;width:8.7px;height:8.7px;background:#d93a2f;border-radius:50%"></div>
<span class="t" style="left:99.26px;top:384px;font-size:6.8px;font-weight:400;color:#fff;transform:scaleX(0.920);text-shadow:0 0 .35px #fff;">P</span>
<div class="r" style="left:113px;top:379.9px;width:29.9px;height:10.6px;background:#e3e8ee;border-radius:3.5px"></div>
<span class="t" style="left:116.80px;top:382px;font-size:7.2px;font-weight:700;color:#2a2f35;transform:scaleX(0.949);">325</span>
<div class="r" style="left:130.45px;top:380.65px;width:8.7px;height:8.7px;background:#d93a2f;border-radius:50%"></div>
<span class="t" style="left:132.64px;top:384px;font-size:6.8px;font-weight:400;color:#fff;transform:scaleX(0.920);text-shadow:0 0 .35px #fff;">C</span>
<div class="r" style="left:146.55px;top:379.9px;width:29.9px;height:10.6px;background:#e3e8ee;border-radius:3.5px"></div>
<span class="t" style="left:150.35px;top:382px;font-size:7.2px;font-weight:700;color:#2a2f35;transform:scaleX(0.949);">350</span>
<div class="r" style="left:164px;top:380.65px;width:8.7px;height:8.7px;background:#27a377;border-radius:50%"></div>
<span class="t" style="left:166.19px;top:384px;font-size:6.8px;font-weight:400;color:#fff;transform:scaleX(0.920);text-shadow:0 0 .35px #fff;">C</span>
<span class="t" style="left:193.80px;top:381px;font-size:8.5px;font-weight:400;color:#1f2328;transform:scaleX(0.915);-webkit-text-stroke:.28px #1f2328;">314.03</span>
<div class="r" style="left:242px;top:379.9px;width:43.1px;height:10.6px;background:#e3e8ee;border-radius:3.5px"></div>
<span class="t" style="left:248.55px;top:384px;font-size:6.8px;font-weight:700;color:#2a2f35;transform:scaleX(0.909);">16-SEP’22</span>
<div class="r" style="left:288.55px;top:380.65px;width:8.9px;height:8.9px;background:#f08a3c;border-radius:50%"></div>
<span class="t" style="left:290.84px;top:384px;font-size:6.8px;font-weight:400;color:#fff;transform:scaleX(0.920);text-shadow:0 0 .35px #fff;">D</span>
<div class="r" style="left:300.55px;top:380.65px;width:8.9px;height:8.9px;background:#f08a3c;border-radius:50%"></div>
<span class="t" style="left:303.01px;top:384px;font-size:6.8px;font-weight:400;color:#fff;transform:scaleX(0.920);text-shadow:0 0 .35px #fff;">E</span>
<span class="t" style="left:363.30px;top:381px;font-size:8.5px;font-weight:400;color:#1f2328;transform:scaleX(0.860);-webkit-text-stroke:.28px #1f2328;">-8.52</span>
<svg class="r" style="left:402px;top:381.50px;width:8.6px;height:7.4px" viewBox="0 0 8.6 7.4"><path d="M0.5 2.1h6M5.3 0.5l1.8 1.6-1.8 1.6M8.1 5.3H2.1M3.3 3.7L1.5 5.3l1.8 1.6" stroke="#1f9d6e" stroke-width="1.3" fill="none" stroke-linecap="round" stroke-linejoin="round"/></svg>
<svg class="r" style="left:414.3px;top:381.20px;width:8.4px;height:7.6px" viewBox="0 0 8.4 7.6"><path d="M0.7 0.2v6.7h7.5" stroke="#d0312d" stroke-width="1.3" fill="none"/><path d="M2.7 3.4v2.2M4.4 1.4v4.2M6.1 2.6v3M7.6 1.6v4" stroke="#d0312d" stroke-width="1.15"/></svg>
<svg class="r" style="left:427.8px;top:380.90px;width:10.2px;height:8.4px" viewBox="0 0 10.2 8.4"><g fill="none" stroke="#1a96c0" stroke-width="1.3"><rect x="0.7" y="3.7" width="5.6" height="3" rx="1.5" transform="rotate(-36 3.5 5.2)"/><rect x="3.9" y="1.5" width="5.6" height="3" rx="1.5" transform="rotate(-36 6.7 3)"/></g></svg>
<span class="t" style="left:467.00px;top:381px;font-size:8.5px;font-weight:400;color:#1f2328;transform:scaleX(0.937);-webkit-text-stroke:.28px #1f2328;">33.8</span>
<span class="t" style="left:511.77px;top:381px;font-size:8.5px;font-weight:400;color:#1f2328;transform:scaleX(0.860);-webkit-text-stroke:.28px #1f2328;">24.9</span>
<span class="t" style="left:558.50px;top:381px;font-size:8.5px;font-weight:400;color:#1f2328;transform:scaleX(0.931);-webkit-text-stroke:.28px #1f2328;">0.8</span>
<div class="r" style="left:5px;top:394.52px;width:572px;height:0.8px;background:#d9dfe6;"></div>
<span class="t" style="left:3.30px;top:401px;font-size:8.9px;font-weight:400;color:#1f2328;transform:scaleX(0.986);-webkit-text-stroke:.28px #1f2328;">or</span>
<div class="r" style="left:45.9px;top:400.02px;width:29.9px;height:10.6px;background:#e3e8ee;border-radius:3.5px"></div>
<span class="t" style="left:49.70px;top:403px;font-size:7.1px;font-weight:700;color:#2a2f35;transform:scaleX(0.962);">275</span>
<div class="r" style="left:63.35px;top:400.77px;width:8.7px;height:8.7px;background:#27a377;border-radius:50%"></div>
<span class="t" style="left:65.71px;top:404px;font-size:6.8px;font-weight:400;color:#fff;transform:scaleX(0.920);text-shadow:0 0 .35px #fff;">P</span>
<div class="r" style="left:79.45px;top:400.02px;width:29.9px;height:10.6px;background:#e3e8ee;border-radius:3.5px"></div>
<span class="t" style="left:83.25px;top:403px;font-size:7.1px;font-weight:700;color:#2a2f35;transform:scaleX(0.962);">295</span>
<div class="r" style="left:96.9px;top:400.77px;width:8.7px;height:8.7px;background:#d93a2f;border-radius:50%"></div>
<span class="t" style="left:99.26px;top:404px;font-size:6.8px;font-weight:400;color:#fff;transform:scaleX(0.920);text-shadow:0 0 .35px #fff;">P</span>
<div class="r" style="left:113px;top:400.02px;width:29.9px;height:10.6px;background:#e3e8ee;border-radius:3.5px"></div>
<span class="t" style="left:116.80px;top:403px;font-size:7.1px;font-weight:700;color:#2a2f35;transform:scaleX(0.962);">325</span>
<div class="r" style="left:130.45px;top:400.77px;width:8.7px;height:8.7px;background:#d93a2f;border-radius:50%"></div>
<span class="t" style="left:132.64px;top:404px;font-size:6.8px;font-weight:400;color:#fff;transform:scaleX(0.920);text-shadow:0 0 .35px #fff;">C</span>
<div class="r" style="left:146.55px;top:400.02px;width:29.9px;height:10.6px;background:#e3e8ee;border-radius:3.5px"></div>
<span class="t" style="left:150.35px;top:403px;font-size:7.1px;font-weight:700;color:#2a2f35;transform:scaleX(0.962);">350</span>
<div class="r" style="left:164px;top:400.77px;width:8.7px;height:8.7px;background:#27a377;border-radius:50%"></div>
<span class="t" style="left:166.19px;top:404px;font-size:6.8px;font-weight:400;color:#fff;transform:scaleX(0.920);text-shadow:0 0 .35px #fff;">C</span>
<span class="t" style="left:193.80px;top:401px;font-size:8.5px;font-weight:400;color:#1f2328;transform:scaleX(0.915);-webkit-text-stroke:.28px #1f2328;">314.03</span>
<div class="r" style="left:242px;top:400.02px;width:43.1px;height:10.6px;background:#e3e8ee;border-radius:3.5px"></div>
<span class="t" style="left:248.55px;top:404px;font-size:6.8px;font-weight:700;color:#2a2f35;transform:scaleX(0.909);">16-SEP’22</span>
<div class="r" style="left:288.55px;top:400.77px;width:8.9px;height:8.9px;background:#f08a3c;border-radius:50%"></div>
<span class="t" style="left:290.84px;top:404px;font-size:6.8px;font-weight:400;color:#fff;transform:scaleX(0.920);text-shadow:0 0 .35px #fff;">D</span>
<div class="r" style="left:300.55px;top:400.77px;width:8.9px;height:8.9px;background:#f08a3c;border-radius:50%"></div>
<span class="t" style="left:303.01px;top:404px;font-size:6.8px;font-weight:400;color:#fff;transform:scaleX(0.920);text-shadow:0 0 .35px #fff;">E</span>
<span class="t" style="left:363.30px;top:401px;font-size:8.5px;font-weight:400;color:#1f2328;transform:scaleX(0.860);-webkit-text-stroke:.28px #1f2328;">-7.82</span>
<svg class="r" style="left:402px;top:401.62px;width:8.6px;height:7.4px" viewBox="0 0 8.6 7.4"><path d="M0.5 2.1h6M5.3 0.5l1.8 1.6-1.8 1.6M8.1 5.3H2.1M3.3 3.7L1.5 5.3l1.8 1.6" stroke="#1f9d6e" stroke-width="1.3" fill="none" stroke-linecap="round" stroke-linejoin="round"/></svg>
<svg class="r" style="left:414.3px;top:401.32px;width:8.4px;height:7.6px" viewBox="0 0 8.4 7.6"><path d="M0.7 0.2v6.7h7.5" stroke="#d0312d" stroke-width="1.3" fill="none"/><path d="M2.7 3.4v2.2M4.4 1.4v4.2M6.1 2.6v3M7.6 1.6v4" stroke="#d0312d" stroke-width="1.15"/></svg>
<svg class="r" style="left:427.8px;top:401.02px;width:10.2px;height:8.4px" viewBox="0 0 10.2 8.4"><g fill="none" stroke="#1a96c0" stroke-width="1.3"><rect x="0.7" y="3.7" width="5.6" height="3" rx="1.5" transform="rotate(-36 3.5 5.2)"/><rect x="3.9" y="1.5" width="5.6" height="3" rx="1.5" transform="rotate(-36 6.7 3)"/></g></svg>
<span class="t" style="left:467.00px;top:401px;font-size:8.5px;font-weight:400;color:#1f2328;transform:scaleX(0.937);-webkit-text-stroke:.28px #1f2328;">31.1</span>
<span class="t" style="left:511.77px;top:401px;font-size:8.5px;font-weight:400;color:#1f2328;transform:scaleX(0.860);-webkit-text-stroke:.28px #1f2328;">23.8</span>
<span class="t" style="left:558.50px;top:401px;font-size:8.5px;font-weight:400;color:#1f2328;transform:scaleX(0.931);-webkit-text-stroke:.28px #1f2328;">1.0</span>
<div class="r" style="left:5px;top:414.64px;width:572px;height:0.8px;background:#d9dfe6;"></div>
<span class="t" style="left:2.40px;top:422px;font-size:9.1px;font-weight:400;color:#1f2328;transform:scaleX(0.853);-webkit-text-stroke:.28px #1f2328;">Calendar</span>
<div class="r" style="left:45.9px;top:420.14px;width:29.9px;height:10.6px;background:#e3e8ee;border-radius:3.5px"></div>
<span class="t" style="left:49.70px;top:423px;font-size:7.1px;font-weight:700;color:#2a2f35;transform:scaleX(0.962);">310</span>
<div class="r" style="left:63.35px;top:420.89px;width:8.7px;height:8.7px;background:#27a377;border-radius:50%"></div>
<span class="t" style="left:65.71px;top:424px;font-size:6.8px;font-weight:400;color:#fff;transform:scaleX(0.920);text-shadow:0 0 .35px #fff;">P</span>
<div class="r" style="left:79.45px;top:420.14px;width:29.9px;height:10.6px;background:#e3e8ee;border-radius:3.5px"></div>
<span class="t" style="left:83.25px;top:423px;font-size:7.1px;font-weight:700;color:#2a2f35;transform:scaleX(0.962);">310</span>
<div class="r" style="left:96.9px;top:420.89px;width:8.7px;height:8.7px;background:#d93a2f;border-radius:50%"></div>
<span class="t" style="left:99.26px;top:424px;font-size:6.8px;font-weight:400;color:#fff;transform:scaleX(0.920);text-shadow:0 0 .35px #fff;">P</span>
<span class="t" style="left:193.80px;top:421px;font-size:8.5px;font-weight:400;color:#1f2328;transform:scaleX(0.915);-webkit-text-stroke:.28px #1f2328;">314.03</span>
<div class="r" style="left:242px;top:420.14px;width:43.1px;height:10.6px;background:#e3e8ee;border-radius:3.5px"></div>
<span class="t" style="left:247.10px;top:424px;font-size:6.7px;font-weight:700;color:#2a2f35;transform:scaleX(0.979);">18-NOV’22</span>
<div class="r" style="left:288.3px;top:420.14px;width:43.1px;height:10.6px;background:#e3e8ee;border-radius:3.5px"></div>
<span class="t" style="left:294.85px;top:424px;font-size:6.7px;font-weight:700;color:#2a2f35;transform:scaleX(0.923);">09-SEP’22</span>
<div class="r" style="left:334.75px;top:420.89px;width:8.9px;height:8.9px;background:#f08a3c;border-radius:50%"></div>
<span class="t" style="left:337.07px;top:424px;font-size:6.7px;font-weight:400;color:#fff;transform:scaleX(0.920);text-shadow:0 0 .35px #fff;">D</span>
<div class="r" style="left:346.75px;top:420.89px;width:8.9px;height:8.9px;background:#f08a3c;border-radius:50%"></div>
<span class="t" style="left:349.24px;top:424px;font-size:6.7px;font-weight:400;color:#fff;transform:scaleX(0.920);text-shadow:0 0 .35px #fff;">E</span>
<span class="t" style="left:363.30px;top:421px;font-size:8.5px;font-weight:400;color:#1f2328;transform:scaleX(0.860);-webkit-text-stroke:.28px #1f2328;">7.18</span>
<svg class="r" style="left:402px;top:421.74px;width:8.6px;height:7.4px" viewBox="0 0 8.6 7.4"><path d="M0.5 2.1h6M5.3 0.5l1.8 1.6-1.8 1.6M8.1 5.3H2.1M3.3 3.7L1.5 5.3l1.8 1.6" stroke="#1f9d6e" stroke-width="1.3" fill="none" stroke-linecap="round" stroke-linejoin="round"/></svg>
<svg class="r" style="left:414.3px;top:421.44px;width:8.4px;height:7.6px" viewBox="0 0 8.4 7.6"><path d="M0.7 0.2v6.7h7.5" stroke="#d0312d" stroke-width="1.3" fill="none"/><path d="M2.7 3.4v2.2M4.4 1.4v4.2M6.1 2.6v3M7.6 1.6v4" stroke="#d0312d" stroke-width="1.15"/></svg>
<svg class="r" style="left:427.8px;top:421.14px;width:10.2px;height:8.4px" viewBox="0 0 10.2 8.4"><g fill="none" stroke="#1a96c0" stroke-width="1.3"><rect x="0.7" y="3.7" width="5.6" height="3" rx="1.5" transform="rotate(-36 3.5 5.2)"/><rect x="3.9" y="1.5" width="5.6" height="3" rx="1.5" transform="rotate(-36 6.7 3)"/></g></svg>
<span class="t" style="left:467.00px;top:421px;font-size:8.5px;font-weight:400;color:#1f2328;transform:scaleX(0.937);-webkit-text-stroke:.28px #1f2328;">34.1</span>
<span class="t" style="left:513.40px;top:421px;font-size:8.5px;font-weight:400;color:#1f2328;transform:scaleX(0.860);-webkit-text-stroke:.28px #1f2328;">-1.5</span>
<span class="t" style="left:558.50px;top:421px;font-size:8.5px;font-weight:400;color:#1f2328;transform:scaleX(0.931);-webkit-text-stroke:.28px #1f2328;">0.5</span>
<div class="r" style="left:5px;top:434.76px;width:572px;height:0.8px;background:#d9dfe6;"></div>
<span class="t" style="left:2.40px;top:442px;font-size:9.1px;font-weight:400;color:#1f2328;transform:scaleX(0.853);-webkit-text-stroke:.28px #1f2328;">Calendar</span>
<div class="r" style="left:45.9px;top:440.26px;width:29.9px;height:10.6px;background:#e3e8ee;border-radius:3.5px"></div>
<span class="t" style="left:49.70px;top:443px;font-size:7.1px;font-weight:700;color:#2a2f35;transform:scaleX(0.962);">315</span>
<div class="r" style="left:63.35px;top:441.01px;width:8.7px;height:8.7px;background:#27a377;border-radius:50%"></div>
<span class="t" style="left:65.74px;top:444px;font-size:6.7px;font-weight:400;color:#fff;transform:scaleX(0.920);text-shadow:0 0 .35px #fff;">P</span>
<div class="r" style="left:79.45px;top:440.26px;width:29.9px;height:10.6px;background:#e3e8ee;border-radius:3.5px"></div>
<span class="t" style="left:83.25px;top:443px;font-size:7.1px;font-weight:700;color:#2a2f35;transform:scaleX(0.962);">315</span>
<div class="r" style="left:96.9px;top:441.01px;width:8.7px;height:8.7px;background:#d93a2f;border-radius:50%"></div>
<span class="t" style="left:99.29px;top:444px;font-size:6.7px;font-weight:400;color:#fff;transform:scaleX(0.920);text-shadow:0 0 .35px #fff;">P</span>
<span class="t" style="left:193.80px;top:442px;font-size:8.6px;font-weight:400;color:#1f2328;transform:scaleX(0.905);-webkit-text-stroke:.28px #1f2328;">314.03</span>
<div class="r" style="left:242px;top:440.26px;width:43.1px;height:10.6px;background:#e3e8ee;border-radius:3.5px"></div>
<span class="t" style="left:247.10px;top:444px;font-size:6.7px;font-weight:700;color:#2a2f35;transform:scaleX(0.979);">18-NOV’22</span>
<div class="r" style="left:288.3px;top:440.26px;width:43.1px;height:10.6px;background:#e3e8ee;border-radius:3.5px"></div>
<span class="t" style="left:294.85px;top:444px;font-size:6.7px;font-weight:700;color:#2a2f35;transform:scaleX(0.923);">16-SEP’22</span>
<div class="r" style="left:334.75px;top:441.01px;width:8.9px;height:8.9px;background:#f08a3c;border-radius:50%"></div>
<span class="t" style="left:337.07px;top:444px;font-size:6.7px;font-weight:400;color:#fff;transform:scaleX(0.920);text-shadow:0 0 .35px #fff;">D</span>
<div class="r" style="left:346.75px;top:441.01px;width:8.9px;height:8.9px;background:#f08a3c;border-radius:50%"></div>
<span class="t" style="left:349.24px;top:444px;font-size:6.7px;font-weight:400;color:#fff;transform:scaleX(0.920);text-shadow:0 0 .35px #fff;">E</span>
<span class="t" style="left:363.30px;top:442px;font-size:8.6px;font-weight:400;color:#1f2328;transform:scaleX(0.850);-webkit-text-stroke:.28px #1f2328;">6.20</span>
<svg class="r" style="left:402px;top:441.86px;width:8.6px;height:7.4px" viewBox="0 0 8.6 7.4"><path d="M0.5 2.1h6M5.3 0.5l1.8 1.6-1.8 1.6M8.1 5.3H2.1M3.3 3.7L1.5 5.3l1.8 1.6" stroke="#1f9d6e" stroke-width="1.3" fill="none" stroke-linecap="round" stroke-linejoin="round"/></svg>
<svg class="r" style="left:414.3px;top:441.56px;width:8.4px;height:7.6px" viewBox="0 0 8.4 7.6"><path d="M0.7 0.2v6.7h7.5" stroke="#d0312d" stroke-width="1.3" fill="none"/><path d="M2.7 3.4v2.2M4.4 1.4v4.2M6.1 2.6v3M7.6 1.6v4" stroke="#d0312d" stroke-width="1.15"/></svg>
<svg class="r" style="left:427.8px;top:441.26px;width:10.2px;height:8.4px" viewBox="0 0 10.2 8.4"><g fill="none" stroke="#1a96c0" stroke-width="1.3"><rect x="0.7" y="3.7" width="5.6" height="3" rx="1.5" transform="rotate(-36 3.5 5.2)"/><rect x="3.9" y="1.5" width="5.6" height="3" rx="1.5" transform="rotate(-36 6.7 3)"/></g></svg>
<span class="t" style="left:467.00px;top:442px;font-size:8.6px;font-weight:400;color:#1f2328;transform:scaleX(0.926);-webkit-text-stroke:.28px #1f2328;">36.6</span>
<span class="t" style="left:513.40px;top:442px;font-size:8.6px;font-weight:400;color:#1f2328;transform:scaleX(0.850);-webkit-text-stroke:.28px #1f2328;">-5.1</span>
<span class="t" style="left:558.50px;top:442px;font-size:8.6px;font-weight:400;color:#1f2328;transform:scaleX(0.920);-webkit-text-stroke:.28px #1f2328;">0.1</span>
<svg class="r" style="left:456.3px;top:244.2px;width:6.9px;height:10px" viewBox="0 0 9 13"><path d="M0.6 0.6v10l2.4-2.2 1.7 3.8 1.6-.7-1.7-3.7h3.3z" fill="#111" stroke="#fff" stroke-width=".7" stroke-linejoin="round"/></svg>
<div class="r" style="left:576.5px;top:6px;width:208px;height:439px;background:#eff3f9;"></div>
<div class="r" style="left:576.5px;top:6px;width:1.8px;height:439px;background:#f3f7fc;"></div>
<span class="t" style="left:589.00px;top:18px;font-size:12.2px;font-weight:700;color:#15181c;transform:scaleX(0.922);">Trade</span>
<svg class="r" style="left:762.6px;top:20.4px;width:7px;height:7.2px" viewBox="0 0 7 7.2"><path d="M0.7 0.6l2.9 3-2.9 3M3.7 0.6l2.9 3-2.9 3" stroke="#15181c" stroke-width="1.1" fill="none"/></svg>
<span class="t" style="left:589.00px;top:44px;font-size:7px;font-weight:400;color:#5f666e;transform:scaleX(0.983);">Last updated &lt;1 minute ago</span>
<svg class="r" style="left:682.10px;top:43.40px;width:6.20px;height:6.20px" viewBox="0 0 10 10"><path d="M1.6 4.4A3.5 3.5 0 0 1 7.7 2.7M8.4 5.6A3.5 3.5 0 0 1 2.3 7.3" stroke="#5f666e" stroke-width="1.1" fill="none"/><path fill="#5f666e" d="M9.2 0.7v3.2H6zM0.8 9.3V6.1H4z"/></svg>
<span class="t" style="left:752.60px;top:44px;font-size:7px;font-weight:400;color:#d92b2b;transform:scaleX(0.909);text-shadow:0 0 .3px #d92b2b;">Clear</span>
<span class="t" style="left:588.50px;top:58px;font-size:16.8px;font-weight:700;color:#101317;transform:scaleX(0.989);">HD</span>
<span class="t" style="left:622.40px;top:64px;font-size:9.7px;font-weight:700;color:#15181c;transform:scaleX(0.898);">$314.03</span>
<span class="t" style="left:658.60px;top:64px;font-size:9.7px;font-weight:400;color:#cf2a2a;transform:scaleX(0.881);text-shadow:0 0 .3px #cf2a2a;">-0.86 (-0.27%)</span>
<div class="r" style="left:589px;top:85.7px;width:48.4px;height:0.7px;background:#dde2e9;"></div>
<div class="r" style="left:720.4px;top:85.7px;width:51.1px;height:0.7px;background:#dde2e9;"></div>
<span class="t" style="left:647.40px;top:84px;font-size:6.9px;font-weight:400;color:#666d75;transform:scaleX(0.898);">LONG PUT CALENDAR</span>
<span class="t" style="left:589.00px;top:98px;font-size:6.9px;font-weight:400;color:#666d75;transform:scaleX(0.881);">QTY</span>
<span class="t" style="left:610.60px;top:98px;font-size:6.9px;font-weight:400;color:#666d75;transform:scaleX(0.854);">EXPIRY</span>
<span class="t" style="left:671.40px;top:98px;font-size:6.9px;font-weight:400;color:#666d75;transform:scaleX(0.843);">STRIKE</span>
<span class="t" style="left:702.00px;top:98px;font-size:6.9px;font-weight:400;color:#666d75;transform:scaleX(0.805);">TYPE</span>
<span class="t" style="left:727.60px;top:98px;font-size:6.9px;font-weight:400;color:#666d75;transform:scaleX(0.830);">PRICE</span>
<span class="t" style="left:589.00px;top:109px;font-size:8.6px;font-weight:700;color:#15181c;transform:scaleX(0.753);">1</span>
<span class="t" style="left:610.60px;top:109px;font-size:8.6px;font-weight:700;color:#15181c;transform:scaleX(0.881);">18-NOV`22</span>
<span class="t" style="left:671.40px;top:109px;font-size:8.6px;font-weight:700;color:#15181c;transform:scaleX(0.892);">315</span>
<div class="r" style="left:701.65px;top:107.15px;width:8.7px;height:8.7px;background:#27a377;border-radius:50%"></div>
<span class="t" style="left:704.04px;top:110px;font-size:6.7px;font-weight:400;color:#fff;transform:scaleX(0.920);text-shadow:0 0 .35px #fff;">P</span>
<span class="t" style="left:727.60px;top:109px;font-size:8.6px;font-weight:700;color:#15181c;transform:scaleX(0.906);">18.15</span>
<svg class="r" style="left:762.90px;top:108.50px;width:7.40px;height:8.00px" viewBox="0 0 7.4 8"><path fill="#c2262b" d="M0 1h2.3L2.8 0.1h1.8L5.1 1h2.3v1.1H0zM0.8 2.7h5.8L6.2 7.4c0 .35-.25.6-.6.6H1.8c-.35 0-.6-.25-.6-.6z"/><path stroke="#fff" stroke-width=".55" opacity=".6" d="M2.7 3.5v3.6M3.7 3.5v3.6M4.7 3.5v3.6"/></svg>
<span class="t" style="left:589.00px;top:121px;font-size:8.5px;font-weight:700;color:#15181c;transform:scaleX(0.762);">1</span>
<span class="t" style="left:610.60px;top:121px;font-size:8.5px;font-weight:700;color:#15181c;transform:scaleX(0.830);">23-SEP`22</span>
<span class="t" style="left:671.40px;top:121px;font-size:8.5px;font-weight:700;color:#15181c;transform:scaleX(0.903);">315</span>
<div class="r" style="left:701.65px;top:119.75px;width:8.7px;height:8.7px;background:#d93a2f;border-radius:50%"></div>
<span class="t" style="left:704.01px;top:123px;font-size:6.8px;font-weight:400;color:#fff;transform:scaleX(0.920);text-shadow:0 0 .35px #fff;">P</span>
<span class="t" style="left:727.60px;top:121px;font-size:8.5px;font-weight:700;color:#15181c;transform:scaleX(0.917);">12.75</span>
<svg class="r" style="left:762.90px;top:121.10px;width:7.40px;height:8.00px" viewBox="0 0 7.4 8"><path fill="#c2262b" d="M0 1h2.3L2.8 0.1h1.8L5.1 1h2.3v1.1H0zM0.8 2.7h5.8L6.2 7.4c0 .35-.25.6-.6.6H1.8c-.35 0-.6-.25-.6-.6z"/><path stroke="#fff" stroke-width=".55" opacity=".6" d="M2.7 3.5v3.6M3.7 3.5v3.6M4.7 3.5v3.6"/></svg>
<div class="r" style="left:589px;top:144.7px;width:48.4px;height:0.7px;background:#dde2e9;"></div>
<div class="r" style="left:720px;top:144.7px;width:51.5px;height:0.7px;background:#dde2e9;"></div>
<span class="t" style="left:647.40px;top:143px;font-size:6.9px;font-weight:400;color:#666d75;transform:scaleX(0.868);">THEORETICAL VALUES</span>
<span class="t" style="left:593.70px;top:158px;font-size:6.9px;font-weight:400;color:#666d75;transform:scaleX(0.900);">D</span>
<span class="t" style="left:593.70px;top:167px;font-size:9.7px;font-weight:700;color:#1f9d6e;transform:scaleX(0.873);">39.1%</span>
<span class="t" style="left:593.70px;top:179px;font-size:7px;font-weight:700;color:#15181c;transform:scaleX(0.902);">$7.51</span>
<span class="t" style="left:642.00px;top:158px;font-size:6.9px;font-weight:400;color:#666d75;transform:scaleX(0.900);">F</span>
<span class="t" style="left:642.00px;top:167px;font-size:9.7px;font-weight:700;color:#d0312d;transform:scaleX(0.868);">-7.0%</span>
<span class="t" style="left:642.00px;top:179px;font-size:7px;font-weight:700;color:#15181c;transform:scaleX(0.902);">$5.02</span>
<span class="t" style="left:687.80px;top:158px;font-size:6.9px;font-weight:400;color:#666d75;transform:scaleX(0.900);">S</span>
<span class="t" style="left:687.80px;top:167px;font-size:9.7px;font-weight:700;color:#1f9d6e;transform:scaleX(0.873);">1.5%</span>
<span class="t" style="left:687.80px;top:179px;font-size:7px;font-weight:700;color:#15181c;transform:scaleX(0.902);">$5.48</span>
<span class="t" style="left:740.25px;top:160px;font-size:6.9px;font-weight:400;color:#666d75;transform:scaleX(0.881);">QTY</span>
<svg class="r" style="left:724.8px;top:167.20px;width:43.8px;height:16px" viewBox="0 0 43.8 16"><path d="M5 0H38.8L43.8 8.0L38.8 16H5L0 8.0Z" fill="#51575d"/><rect x="5.2" y="1.5" width="33.4" height="13" fill="#fff"/></svg>
<span class="t" style="left:744.67px;top:171px;font-size:8.5px;font-weight:700;color:#15181c;transform:scaleX(0.860);">1</span>
<span class="t" style="left:603.51px;top:199px;font-size:6.9px;font-weight:400;color:#666d75;transform:scaleX(0.900);">Bid</span>
<span class="t" style="left:601.75px;top:227px;font-size:6.9px;font-weight:400;color:#666d75;transform:scaleX(0.931);">4.85</span>
<span class="t" style="left:647.40px;top:199px;font-size:6.9px;font-weight:400;color:#666d75;transform:scaleX(0.900);">Mid</span>
<span class="t" style="left:646.15px;top:227px;font-size:6.9px;font-weight:400;color:#666d75;transform:scaleX(0.931);">5.40</span>
<span class="t" style="left:691.82px;top:199px;font-size:6.9px;font-weight:400;color:#666d75;transform:scaleX(0.900);">Ask</span>
<span class="t" style="left:690.75px;top:227px;font-size:6.9px;font-weight:400;color:#666d75;transform:scaleX(0.931);">5.95</span>
<div class="r" style="left:594.5px;top:214.5px;width:116px;height:1.5px;background:#2e3338;"></div>
<div class="r" style="left:607.3px;top:210px;width:1.5px;height:10.5px;background:#2e3338;"></div>
<div class="r" style="left:696.3px;top:210px;width:1.5px;height:10.5px;background:#2e3338;"></div>
<div class="r" style="left:639.3px;top:208.6px;width:26.8px;height:12.8px;background:#fff;border-radius:7px;border:1px solid #2e3338;box-sizing:border-box"></div>
<span class="t" style="left:646.00px;top:212px;font-size:7.9px;font-weight:700;color:#15181c;transform:scaleX(0.872);">5.40</span>
<span class="t" style="left:737.75px;top:200px;font-size:6.9px;font-weight:400;color:#666d75;transform:scaleX(0.830);">PRICE</span>
<svg class="r" style="left:724.8px;top:207.30px;width:43.8px;height:16px" viewBox="0 0 43.8 16"><path d="M5 0H38.8L43.8 8.0L38.8 16H5L0 8.0Z" fill="#1c966c"/><rect x="5.2" y="1.5" width="33.4" height="13" fill="#fff"/></svg>
<span class="t" style="left:739.59px;top:211px;font-size:8.5px;font-weight:700;color:#15181c;transform:scaleX(0.860);">5.40</span>
<div class="r" style="left:589px;top:249.7px;width:54.7px;height:0.7px;background:#dde2e9;"></div>
<div class="r" style="left:714px;top:249.7px;width:57.5px;height:0.7px;background:#dde2e9;"></div>
<span class="t" style="left:653.70px;top:248px;font-size:6.9px;font-weight:400;color:#666d75;transform:scaleX(0.885);">PAYOFF ANALYSIS</span>
<span class="t" style="left:589.00px;top:264px;font-size:7.3px;font-weight:400;color:#555c64;transform:scaleX(0.860);">POP:</span>
<span class="t" style="left:606.00px;top:263px;font-size:8.5px;font-weight:700;color:#15181c;transform:scaleX(0.902);">68.87%</span>
<span class="t" style="left:649.60px;top:264px;font-size:7.3px;font-weight:400;color:#555c64;transform:scaleX(0.877);">Rwd:Risk:</span>
<span class="t" style="left:681.00px;top:263px;font-size:9.8px;font-weight:700;color:#15181c;transform:scaleX(0.839);">1.5 : 1</span>
<span class="t" style="left:723.30px;top:264px;font-size:7.3px;font-weight:400;color:#555c64;transform:scaleX(0.902);">Max Gain:</span>
<span class="t" style="left:755.40px;top:263px;font-size:8.4px;font-weight:700;color:#1f9d6e;transform:scaleX(0.910);">$812</span>
<svg class="r" style="left:0;top:0;width:792px;height:456px" viewBox="0 0 792 456"><path d="M621.7 282.6H750.7" stroke="#cdd3da" stroke-width=".7" stroke-dasharray="2.2 1.6"/><path d="M621.7 304.4H750.7" stroke="#cdd3da" stroke-width=".7" stroke-dasharray="2.2 1.6"/><path d="M621.7 348.2H750.7" stroke="#cdd3da" stroke-width=".7" stroke-dasharray="2.2 1.6"/><path d="M621.7 370.0H750.7" stroke="#cdd3da" stroke-width=".7" stroke-dasharray="2.2 1.6"/><rect x="628.20" y="323.90" width="4.0" height="2.40" fill="#d5dbe2"/><rect x="633.77" y="325.20" width="4.0" height="1.10" fill="#d5dbe2"/><rect x="639.33" y="325.40" width="4.0" height="0.90" fill="#d5dbe2"/><rect x="644.90" y="323.40" width="4.0" height="2.90" fill="#d5dbe2"/><rect x="650.46" y="320.60" width="4.0" height="5.70" fill="#d5dbe2"/><rect x="656.03" y="313.30" width="4.0" height="13.00" fill="#d5dbe2"/><rect x="661.60" y="309.80" width="4.0" height="16.50" fill="#d5dbe2"/><rect x="667.16" y="305.10" width="4.0" height="21.20" fill="#d5dbe2"/><rect x="672.73" y="294.30" width="4.0" height="32.00" fill="#d5dbe2"/><rect x="678.29" y="292.10" width="4.0" height="34.20" fill="#d5dbe2"/><rect x="683.86" y="287.30" width="4.0" height="39.00" fill="#d5dbe2"/><rect x="689.43" y="285.50" width="4.0" height="40.80" fill="#d5dbe2"/><rect x="694.99" y="288.60" width="4.0" height="37.70" fill="#d5dbe2"/><rect x="700.56" y="295.20" width="4.0" height="31.10" fill="#d5dbe2"/><rect x="706.12" y="306.90" width="4.0" height="19.40" fill="#d5dbe2"/><rect x="711.69" y="315.10" width="4.0" height="11.20" fill="#d5dbe2"/><rect x="717.26" y="322.50" width="4.0" height="3.80" fill="#d5dbe2"/><rect x="722.82" y="324.50" width="4.0" height="1.80" fill="#d5dbe2"/><rect x="728.39" y="325.40" width="4.0" height="0.90" fill="#d5dbe2"/><rect x="733.95" y="325.60" width="4.0" height="0.70" fill="#d5dbe2"/><path d="M669.20 326.30C669.93 324.68 671.95 320.35 673.60 316.60C675.25 312.85 676.97 308.47 679.10 303.80C681.23 299.13 685.18 291.13 686.40 288.60C687.62 291.13 691.27 299.13 693.70 303.80C696.13 308.47 698.55 312.85 701.00 316.60C703.45 320.35 707.17 324.68 708.40 326.30L669.2 326.3Z" fill="#9adbc7" opacity=".82"/><path d="M621.70 352.80C623.63 352.42 629.83 351.28 633.30 350.50C636.77 349.72 639.45 349.17 642.50 348.10C645.55 347.03 648.55 345.98 651.60 344.10C654.65 342.22 657.87 339.77 660.80 336.80C663.73 333.83 667.80 328.05 669.20 326.30L621.7 326.3Z" fill="#f5cfcf" opacity=".92"/><path d="M708.40 326.30C709.92 327.73 714.15 332.40 717.50 334.90C720.85 337.40 724.83 339.53 728.50 341.30C732.17 343.07 735.80 344.33 739.50 345.50C743.20 346.67 748.83 347.83 750.70 348.30L750.7 326.3L708.4 326.3Z" fill="#f5cfcf" opacity=".92"/><path d="M621.7 326.3H750.7" stroke="#6b7178" stroke-width=".9"/><path d="M621.70 352.80C623.63 352.42 629.83 351.28 633.30 350.50C636.77 349.72 639.45 349.17 642.50 348.10C645.55 347.03 648.55 345.98 651.60 344.10C654.65 342.22 657.87 339.77 660.80 336.80C663.73 333.83 667.07 329.67 669.20 326.30C671.33 322.93 671.95 320.35 673.60 316.60C675.25 312.85 676.97 308.47 679.10 303.80C681.23 299.13 685.18 291.13 686.40 288.60C687.62 291.13 691.27 299.13 693.70 303.80C696.13 308.47 698.55 312.85 701.00 316.60C703.45 320.35 705.65 323.25 708.40 326.30C711.15 329.35 714.15 332.40 717.50 334.90C720.85 337.40 724.83 339.53 728.50 341.30C732.17 343.07 735.80 344.33 739.50 345.50C743.20 346.67 748.83 347.83 750.70 348.30" fill="none" stroke="#4d535a" stroke-width=".85" stroke-linejoin="miter"/><path d="M621.70 349.60C623.63 348.98 629.83 347.13 633.30 345.90C636.77 344.67 639.45 343.57 642.50 342.20C645.55 340.83 648.55 339.37 651.60 337.70C654.65 336.03 657.90 334.03 660.80 332.20C663.70 330.37 666.27 328.17 669.00 326.70C671.73 325.23 674.87 324.20 677.20 323.40C679.53 322.60 681.02 322.23 683.00 321.90C684.98 321.57 687.10 321.40 689.10 321.40C691.10 321.40 693.02 321.57 695.00 321.90C696.98 322.23 698.62 322.60 701.00 323.40C703.38 324.20 706.55 325.45 709.30 326.70C712.05 327.95 714.30 329.38 717.50 330.90C720.70 332.42 724.83 334.35 728.50 335.80C732.17 337.25 735.80 338.43 739.50 339.60C743.20 340.77 748.83 342.27 750.70 342.80" fill="none" stroke="#4d535a" stroke-width=".85"/><path d="M686.4 281V377.5" stroke="#ee7623" stroke-width=".9" stroke-dasharray="3 2.2"/></svg>
<span class="t" style="left:676.05px;top:277px;font-size:5.4px;font-weight:700;color:#ee7623;transform:scaleX(0.777);">CURRENT</span>
<span class="t" style="left:600.21px;top:281px;font-size:6.4px;font-weight:400;color:#5f666e;transform:scaleX(0.886);">1,000</span>
<span class="t" style="left:604.94px;top:302px;font-size:6.3px;font-weight:400;color:#5f666e;transform:scaleX(0.900);">500</span>
<span class="t" style="left:611.25px;top:324px;font-size:6.3px;font-weight:400;color:#5f666e;transform:scaleX(0.900);">0</span>
<span class="t" style="left:601.63px;top:346px;font-size:6.3px;font-weight:400;color:#5f666e;transform:scaleX(0.900);">−500</span>
<span class="t" style="left:596.90px;top:368px;font-size:6.3px;font-weight:400;color:#5f666e;transform:scaleX(0.900);">−1,000</span>
<span class="t" style="left:614.70px;top:331px;font-size:5.9px;font-weight:400;color:#4f565e;transform:scaleX(0.975);">241.5</span>
<span class="t" style="left:636.20px;top:331px;font-size:5.9px;font-weight:400;color:#4f565e;transform:scaleX(0.975);">265.5</span>
<span class="t" style="left:657.70px;top:331px;font-size:5.9px;font-weight:400;color:#4f565e;transform:scaleX(0.975);">289.5</span>
<span class="t" style="left:679.20px;top:331px;font-size:5.9px;font-weight:400;color:#4f565e;transform:scaleX(0.975);">313.5</span>
<span class="t" style="left:700.70px;top:331px;font-size:5.9px;font-weight:400;color:#4f565e;transform:scaleX(0.975);">337.5</span>
<span class="t" style="left:722.20px;top:331px;font-size:5.9px;font-weight:400;color:#4f565e;transform:scaleX(0.975);">361.5</span>
<span class="t" style="left:743.70px;top:331px;font-size:5.9px;font-weight:400;color:#4f565e;transform:scaleX(0.975);">385.5</span>
<span class="t" style="left:589.00px;top:386px;font-size:7.3px;font-weight:400;color:#555c64;transform:scaleX(0.921);">Breakeven:</span>
<div class="r" style="left:625.6px;top:384px;width:30px;height:10px;background:#d9dfe7;border-radius:3px"></div>
<div class="r" style="left:658.4px;top:384px;width:29.8px;height:10px;background:#d9dfe7;border-radius:3px"></div>
<span class="t" style="left:630.60px;top:387px;font-size:7px;font-weight:700;color:#15181c;transform:scaleX(0.934);">294.10</span>
<span class="t" style="left:663.30px;top:387px;font-size:7px;font-weight:700;color:#15181c;transform:scaleX(0.934);">340.04</span>
<span class="t" style="left:720.50px;top:386px;font-size:7.3px;font-weight:400;color:#555c64;transform:scaleX(0.902);">Max Loss:</span>
<span class="t" style="left:753.30px;top:385px;font-size:8.4px;font-weight:700;color:#d0312d;transform:scaleX(0.884);">$-540</span>
<div class="r" style="left:589px;top:408.7px;width:70.3px;height:0.7px;background:#dde2e9;"></div>
<div class="r" style="left:698.7px;top:408.7px;width:72.8px;height:0.7px;background:#dde2e9;"></div>
<span class="t" style="left:669.30px;top:407px;font-size:6.9px;font-weight:400;color:#666d75;transform:scaleX(0.814);">GREEKS</span>
<span class="t" style="left:589.00px;top:419px;font-size:7.3px;font-weight:400;color:#555c64;transform:scaleX(0.939);">Delta</span>
<span class="t" style="left:589.00px;top:430px;font-size:9.6px;font-weight:700;color:#15181c;transform:scaleX(0.920);">0.028</span>
<span class="t" style="left:626.00px;top:419px;font-size:7.3px;font-weight:400;color:#555c64;transform:scaleX(0.944);">Gamma</span>
<span class="t" style="left:626.00px;top:430px;font-size:9.6px;font-weight:700;color:#15181c;transform:scaleX(0.915);">-0.005</span>
<span class="t" style="left:666.00px;top:419px;font-size:7.3px;font-weight:400;color:#555c64;transform:scaleX(0.937);">Theta</span>
<span class="t" style="left:666.00px;top:430px;font-size:9.6px;font-weight:700;color:#15181c;transform:scaleX(0.891);">0.041</span>
<span class="t" style="left:702.80px;top:419px;font-size:7.3px;font-weight:400;color:#555c64;transform:scaleX(0.901);">Vega</span>
<span class="t" style="left:702.80px;top:430px;font-size:9.6px;font-weight:700;color:#15181c;transform:scaleX(0.920);">0.227</span>
<span class="t" style="left:739.60px;top:419px;font-size:7.3px;font-weight:400;color:#555c64;transform:scaleX(0.813);">DTC</span>
<span class="t" style="left:739.60px;top:430px;font-size:9.6px;font-weight:700;color:#15181c;transform:scaleX(0.932);">0.000</span>
</div></body></html>
